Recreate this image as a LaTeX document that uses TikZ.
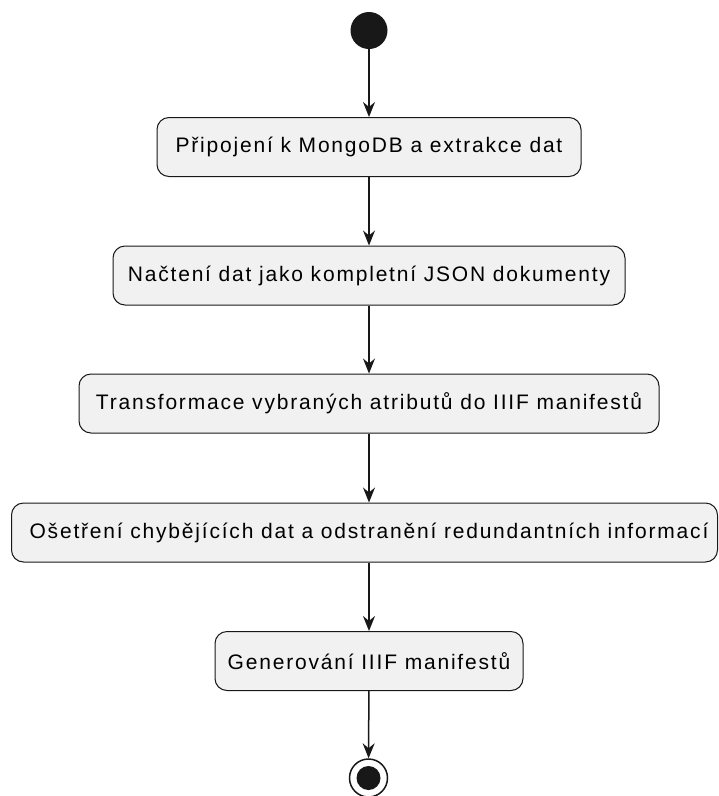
\documentclass[tikz,border=0pt]{standalone}
\usepackage{fontspec}
\setmainfont{Liberation Sans}[LetterSpace=8.6]
\usetikzlibrary{arrows.meta}
\definecolor{boxfill}{HTML}{F1F1F1}
\definecolor{ink}{HTML}{181818}
\tikzset{
  actfont/.style={font=\fontsize{21}{24}\selectfont, text=black},
  actbox/.style={draw=ink, fill=boxfill, line width=1pt, rounded corners=12pt,
    minimum height=59pt, inner sep=0pt, actfont},
  flow/.style={draw=ink, line width=1.5pt, -{Stealth[length=15pt,width=12pt,inset=5pt]}},
}
\begin{document}
\begin{tikzpicture}[x=1pt,y=-1pt]
\useasboundingbox (0,0) rectangle (719,796);
\fill[white] (0,0) rectangle (719,796);
\node[circle, fill=ink, minimum size=37pt, inner sep=0pt] (start) at (369,30.5) {};
\node[actbox, minimum width=424pt] (a1) at (369,147) {Připojení k MongoDB a extrakce dat};
\node[actbox, minimum width=512pt] (a2) at (369,275.5) {Načtení dat jako kompletní JSON dokumenty};
\node[actbox, minimum width=580pt] (a3) at (369,403.5) {Transformace vybraných atributů do IIIF manifestů};
\node[actbox, minimum width=706pt,
  label={[actfont, xshift=4.5pt]center:Ošetření chybějících dat a odstranění redundantních informací}] (a4) at (364.5,532.5) {};
\node[actbox, minimum width=308pt] (a5) at (369,661) {Generování IIIF manifestů};
\node[circle, draw=ink, line width=1.5pt, minimum size=38pt, inner sep=0pt] (stop) at (368.5,778) {};
\node[circle, fill=ink, minimum size=24pt, inner sep=0pt] (stopdot) at (stop.center) {};
\draw[flow] (start) -- (a1);
\draw[flow] (a1) -- (a2);
\draw[flow] (a2) -- (a3);
\draw[flow] (a3.south -| a1.south) -- (a4.north -| a1.south);
\draw[flow] (a4.south -| a1.south) -- (a5);
\draw[flow] (a5) -- (stop);
\end{tikzpicture}
\end{document}
